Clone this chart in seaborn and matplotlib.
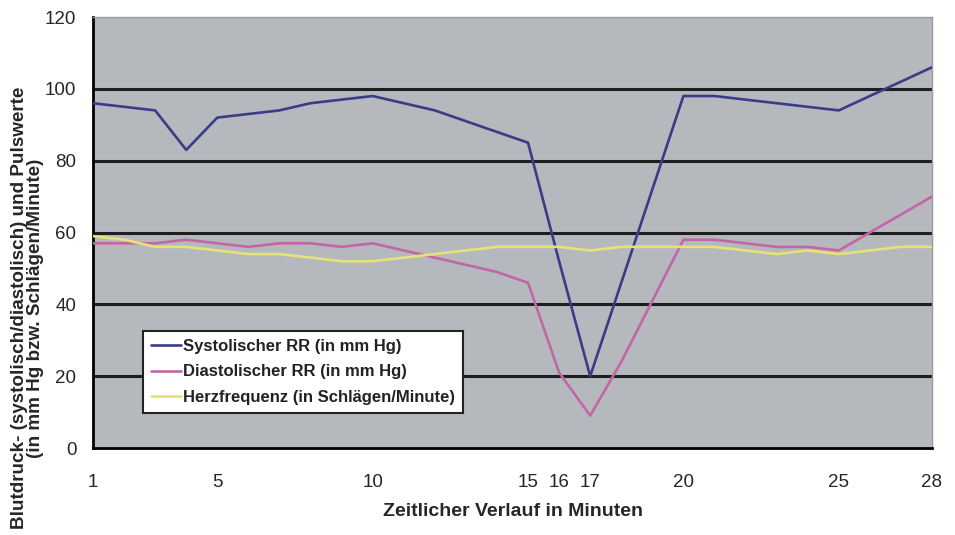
import matplotlib
matplotlib.use("Agg")
import matplotlib.pyplot as plt
import seaborn as sns
import pandas as pd

minutes = list(range(1, 29))
systolic = [96, 95, 94, 83, 92, 93, 94, 96, 97, 98, 96, 94, 91, 88, 85, 52, 20, 46, 72, 98,
            98, 97, 96, 95, 94, 98, 102, 106]
diastolic = [57, 57, 57, 58, 57, 56, 57, 57, 56, 57, 55, 53, 51, 49, 46, 21, 9, 24, 41, 58,
             58, 57, 56, 56, 55, 60, 65, 70]
heart = [59, 58, 56, 56, 55, 54, 54, 53, 52, 52, 53, 54, 55, 56, 56, 56, 55, 56, 56, 56,
         56, 55, 54, 55, 54, 55, 56, 56]
series_names = ["Systolischer RR (in mm Hg)", "Diastolischer RR (in mm Hg)",
                "Herzfrequenz (in Schlägen/Minute)"]
labeled_ticks = [1, 5, 10, 15, 16, 17, 20, 25, 28]
y_ticks = [0, 20, 40, 60, 80, 100, 120]

df = pd.concat([
    pd.DataFrame({"Minute": minutes, "Wert": systolic, "Serie": series_names[0]}),
    pd.DataFrame({"Minute": minutes, "Wert": diastolic, "Serie": series_names[1]}),
    pd.DataFrame({"Minute": minutes, "Wert": heart, "Serie": series_names[2]}),
])

sns.set_style("white")
plt.rcParams["font.family"] = ["Liberation Sans", "DejaVu Sans"]

fig = plt.figure(figsize=(9.55, 5.35), dpi=100)
ax = fig.add_axes([0.0974, 0.1626, 0.8785, 0.8056])
ax.set_facecolor("#b5b9bd")

palette = {series_names[0]: "#3a3c88", series_names[1]: "#c266a8", series_names[2]: "#e6e27a"}

for y in [20, 40, 60, 80, 100]:
    ax.axhline(y, color="#1e1e1e", lw=2.2, zorder=1)

sns.lineplot(data=df, x="Minute", y="Wert", hue="Serie", palette=palette,
             hue_order=series_names, lw=1.9, ax=ax, zorder=3, legend=True)

ax.set_xlim(1, 28)
ax.set_ylim(0, 120)
ax.set_xticks(minutes)
ax.set_xticklabels([str(m) if m in labeled_ticks else "" for m in minutes], fontsize=13.5)
ax.set_yticks(y_ticks)
ax.set_yticklabels([str(v) for v in y_ticks], fontsize=13.5)
ax.tick_params(axis="both", direction="out", length=6, width=1.5, color="black")
ax.tick_params(axis="x", pad=13)
ax.tick_params(axis="y", pad=6)

for side in ["left", "bottom"]:
    ax.spines[side].set_color("black")
    ax.spines[side].set_linewidth(2)
for side in ["top", "right"]:
    ax.spines[side].set_color("#9a9a9a")
    ax.spines[side].set_linewidth(1)

ax.set_xlabel("Zeitlicher Verlauf in Minuten", fontsize=14, fontweight="bold", labelpad=8)
ax.set_ylabel("Blutdruck- (systolisch/diastolisch) und Pulswerte\n(in mm Hg bzw. Schlägen/Minute)",
              fontsize=13.6, fontweight="bold", linespacing=0.92)
ax.yaxis.set_label_coords(-0.059, 0.325)

leg = ax.legend(loc="lower left", bbox_to_anchor=(0.0596, 0.081), fontsize=12,
                frameon=True, fancybox=False, handlelength=1.8, handletextpad=0.1,
                borderpad=0.5, labelspacing=0.62, borderaxespad=0)
leg.get_frame().set_edgecolor("#222222")
leg.get_frame().set_linewidth(1.5)
leg.get_frame().set_facecolor("white")
leg.get_frame().set_alpha(1)
for t in leg.get_texts():
    t.set_fontweight("bold")
    t.set_color("#222222")

fig.savefig("out.png", dpi=100, facecolor="white")
